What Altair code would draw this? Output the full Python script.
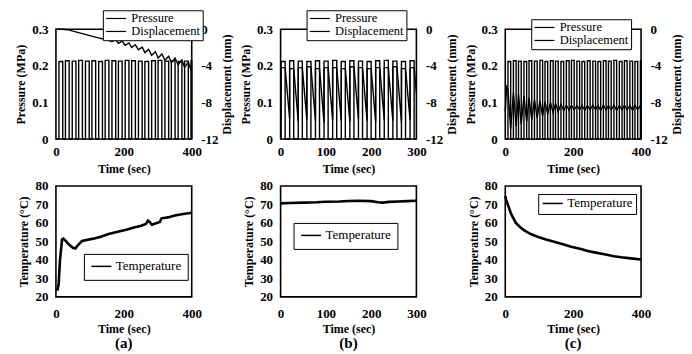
import altair as alt
import pandas as pd

FONT = "Liberation Serif"

# ---------------- top row: pressure pulses (rise / fall times, peak MPa) ----------------
pa_on = [9, 28, 48, 67, 87, 106, 126, 145, 165, 184, 204, 223, 243, 262, 282, 301, 321, 340, 360, 379, 398]
pa_off = [20, 39, 59, 78, 98, 117, 137, 156, 176, 195, 215, 234, 254, 273, 293, 312, 332, 351, 371, 390, 400]
pa_peak = [0.212, 0.214, 0.213, 0.215, 0.213, 0.214, 0.212, 0.215, 0.214, 0.213, 0.215,
           0.214, 0.213, 0.212, 0.214, 0.215, 0.213, 0.214, 0.212, 0.213, 0.214]

pb_on = [1, 20, 39, 58, 77, 96, 115, 134, 153, 172, 191, 210, 229, 248, 267, 286]
pb_off = [10, 29, 48, 67, 86, 105, 124, 143, 162, 181, 200, 219, 238, 257, 276, 295]
pb_peak = [0.212, 0.214, 0.213, 0.212, 0.214, 0.213, 0.215, 0.212, 0.214, 0.213,
           0.212, 0.214, 0.215, 0.213, 0.212, 0.214]

pc_on = [8, 24, 39, 55, 70, 86, 102, 117, 133, 148, 164, 180, 195, 211, 226, 242, 258,
         273, 289, 304, 320, 336, 351, 367, 382, 398]
pc_off = [16, 32, 47, 63, 78, 94, 110, 125, 141, 156, 172, 188, 203, 219, 234, 250, 266,
          281, 297, 312, 328, 344, 359, 375, 390, 400]
pc_peak = [0.212, 0.214, 0.213, 0.212, 0.214, 0.213, 0.215, 0.212, 0.214, 0.213, 0.212,
           0.214, 0.215, 0.213, 0.212, 0.214, 0.213, 0.212, 0.214, 0.213, 0.215, 0.212,
           0.214, 0.213, 0.212, 0.214]

# ---------------- top row: displacement (mm) ----------------
da_t = [0, 20, 35, 50, 75, 100, 125, 150, 165, 176, 184, 195, 204, 215, 223, 234, 243, 254,
        262, 273, 282, 293, 301, 312, 321, 332, 340, 351, 360, 371, 379, 390, 398, 400]
da_v = [0, 0, -0.05, -0.2, -0.45, -0.7, -0.95, -1.15, -1.35, -1.15, -1.55, -1.3, -1.75, -1.5,
        -2.0, -1.7, -2.25, -1.95, -2.55, -2.2, -2.85, -2.45, -3.15, -2.7, -3.4, -2.95,
        -3.65, -3.15, -3.9, -3.35, -4.15, -3.6, -4.45, -4.1]

db_top = [-4.2, -4.3, -4.2, -4.1, -4.3, -4.2, -4.2, -4.3, -4.1, -4.2, -4.3, -4.2, -4.2, -4.1, -4.3, -4.2]
db_low = [-10.0, -9.8, -10.1, -9.9, -10.0, -10.2, -9.9, -10.0, -10.1, -9.8, -10.0, -10.1,
          -9.9, -10.0, -10.2, -9.9]
db_start = -9.6
db_end = -7.0

dc_t = [0, 4, 8, 16, 24, 32, 39, 47, 55, 63, 70, 78, 86, 94, 102, 110, 117, 125, 133, 141,
        148, 156, 164, 172, 180, 188, 195, 203, 211, 219, 226, 234, 242, 250, 258, 266, 273,
        281, 289, 297, 304, 312, 320, 328, 336, 344, 351, 359, 367, 375, 382, 390, 398, 400]
dc_v = [-9.0, -6.3, -6.6, -10.9, -6.9, -10.6, -7.1, -10.4, -7.3, -10.1, -7.5, -9.9, -7.7, -9.7,
        -7.8, -9.5, -7.9, -9.3, -8.0, -9.1, -8.1, -9.0, -8.2, -8.9, -8.3, -8.85, -8.3, -8.8,
        -8.35, -8.8, -8.3, -8.85, -8.35, -8.8, -8.3, -8.8, -8.35, -8.85, -8.3, -8.8, -8.35,
        -8.8, -8.3, -8.85, -8.35, -8.8, -8.3, -8.8, -8.35, -8.85, -8.3, -8.8, -8.35, -8.6]

# ---------------- bottom row: temperature (deg C) ----------------
ta_t = [0, 5, 8, 12, 18, 22, 30, 40, 50, 57, 65, 77, 90, 110, 132, 155, 182, 210, 230, 251,
        265, 271, 276, 283, 295, 306, 311, 330, 350, 375, 400]
ta_v = [24, 24, 27, 40, 51, 51.5, 50, 48, 46.5, 46.2, 48, 50.2, 50.8, 51.5, 52.5, 54, 55.2,
        56.5, 57.5, 58.5, 59.5, 61.2, 60.5, 59, 59.8, 60.5, 62.5, 63, 64, 64.8, 65.5]

tb_t = [0, 20, 50, 80, 100, 130, 150, 170, 200, 215, 225, 240, 260, 280, 300]
tb_v = [70.6, 70.8, 71.0, 71.2, 71.5, 71.6, 71.9, 72.0, 71.8, 71.2, 71.0, 71.4, 71.6, 71.8, 72.0]

tc_t = [0, 2, 7, 17, 31, 45, 56, 75, 95, 120, 144, 170, 194, 220, 243, 270, 292, 320, 341, 370, 400]
tc_v = [74.5, 73, 70.2, 65, 60, 57.5, 56, 54, 52.5, 51, 49.8, 48.5, 47.1, 46, 44.8, 43.8, 43,
        42, 41.4, 40.8, 40.2]

p_ticks = [0, 0.1, 0.2, 0.3]
d_ticks = [-12, -8, -4, 0]
t_ticks = [20, 30, 40, 50, 60, 70, 80]
x400 = [0, 200, 400]
x300 = [0, 100, 200, 300]

LINE_SYMBOL = "M-2,0H2"


def pressure_frame(on, off, peak, tmax):
    t, v = [0], [0.0]
    for a, b, p in zip(on, off, peak):
        t += [a, b]
        v += [p, 0.0]
    if t[-1] < tmax:
        t.append(tmax)
        v.append(0.0)
    return pd.DataFrame({"t": t, "v": v, "series": "Pressure", "i": list(range(len(t)))})


def disp_frame(t, v):
    return pd.DataFrame({"t": t, "v": v, "series": "Displacement", "i": list(range(len(t)))})


def disp_b_frame():
    t, v = [0], [db_start]
    for a, b, top, low in zip(pb_on, pb_off, db_top, db_low):
        t += [a, a, b]
        v += [low, top, top]
    t.append(300)
    v.append(db_end)
    return disp_frame(t, v)


def temp_frame(t, v):
    return pd.DataFrame({"t": t, "v": v, "series": "Temperature"})


def top_panel(pdf, ddf, xmax, xvals, lx, ly):
    color = alt.Color(
        "series:N",
        scale=alt.Scale(domain=["Pressure", "Displacement"], range=["black", "black"]),
        legend=alt.Legend(title=None, orient="none", legendX=lx, legendY=ly,
                          symbolType=LINE_SYMBOL, symbolSize=100, symbolStrokeWidth=1.2,
                          symbolOffset=5, labelOffset=9, labelFontSize=12.5,
                          padding=2, rowPadding=-1),
    )
    x = alt.X("t:Q", scale=alt.Scale(domain=[0, xmax], nice=False, zero=False),
              axis=alt.Axis(values=xvals, title="Time (sec)", labelPadding=6, titlePadding=5))
    pres = alt.Chart(pdf).mark_line(interpolate="step-after", strokeWidth=1.4).encode(
        x=x,
        y=alt.Y("v:Q", scale=alt.Scale(domain=[0, 0.3], nice=False),
                axis=alt.Axis(orient="left", values=p_ticks, format="~g",
                              title="Pressure (MPa)", labelPadding=8, titlePadding=4)),
        color=color,
        order="i:Q",
    )
    disp = alt.Chart(ddf).mark_line(strokeWidth=1.4).encode(
        x=x,
        y=alt.Y("v:Q", scale=alt.Scale(domain=[-12, 0], nice=False),
                axis=alt.Axis(orient="right", values=d_ticks, title="Displacement (mm)",
                              titleAngle=270, titleBaseline="top", labelPadding=9,
                              titlePadding=4, labelExpr="'' + datum.value")),
        color=color,
        order="i:Q",
    )
    return alt.layer(pres, disp).resolve_scale(y="independent").properties(width=136, height=110)


def bottom_panel(df, xmax, xvals, lx, ly, pad, label):
    color = alt.Color(
        "series:N",
        scale=alt.Scale(domain=["Temperature"], range=["black"]),
        legend=alt.Legend(title=None, orient="none", legendX=lx, legendY=ly,
                          symbolType=LINE_SYMBOL, symbolSize=100, symbolStrokeWidth=1.5,
                          symbolOffset=5, labelOffset=8, padding=pad),
    )
    return alt.Chart(df).mark_line(strokeWidth=2.6).encode(
        x=alt.X("t:Q", scale=alt.Scale(domain=[0, xmax], nice=False, zero=False),
                axis=alt.Axis(values=xvals, title="Time (sec)", labelPadding=11, titlePadding=3)),
        y=alt.Y("v:Q", scale=alt.Scale(domain=[20, 80], nice=False),
                axis=alt.Axis(values=t_ticks, title="Temperature (°C)", labelPadding=8, titlePadding=4)),
        color=color,
    ).properties(width=136, height=111,
                 title=alt.TitleParams(label, orient="bottom", offset=1))


ta = top_panel(pressure_frame(pa_on, pa_off, pa_peak, 400), disp_frame(da_t, da_v), 400, x400, 47, -19)
tb = top_panel(pressure_frame(pb_on, pb_off, pb_peak, 300), disp_b_frame(), 300, x300, 26, -19)
tc = top_panel(pressure_frame(pc_on, pc_off, pc_peak, 400), disp_frame(dc_t, dc_v), 400, x400, 26, -10)

ba = bottom_panel(temp_frame(ta_t, ta_v), 400, x400, 28, 68, 6, "(a)")
bb = bottom_panel(temp_frame(tb_t, tb_v), 300, x300, 13, 37, 6, "(b)")
bc = bottom_panel(temp_frame(tc_t, tc_v), 400, x400, 33, 8, 3, "(c)")

chart = alt.concat(
    ta, tb, tc, ba, bb, bc, columns=3,
    spacing={"row": 47, "column": 89}, bounds="flush",
).resolve_scale(
    x="independent", y="independent", color="independent"
).resolve_legend(
    color="independent"
).properties(
    padding={"left": 5, "top": 0, "right": 0, "bottom": 0},
    background="white",
).configure(
    font=FONT,
).configure_axis(
    labelFont=FONT, titleFont=FONT, labelFontSize=13, titleFontSize=12,
    labelFontWeight="bold", titleFontWeight="bold", labelColor="black", titleColor="black",
    grid=False, ticks=False, domain=False, labelFlush=False, labelOverlap=False,
).configure_view(
    stroke="black", strokeWidth=1.6,
).configure_title(
    font=FONT, fontSize=15, fontWeight="bold", color="black",
).configure_legend(
    labelFont=FONT, labelFontSize=13, labelFontWeight="normal", labelColor="black",
    fillColor="white", strokeColor="black",
)

chart.save("out.html", embed_options={"renderer": "svg", "actions": False})
